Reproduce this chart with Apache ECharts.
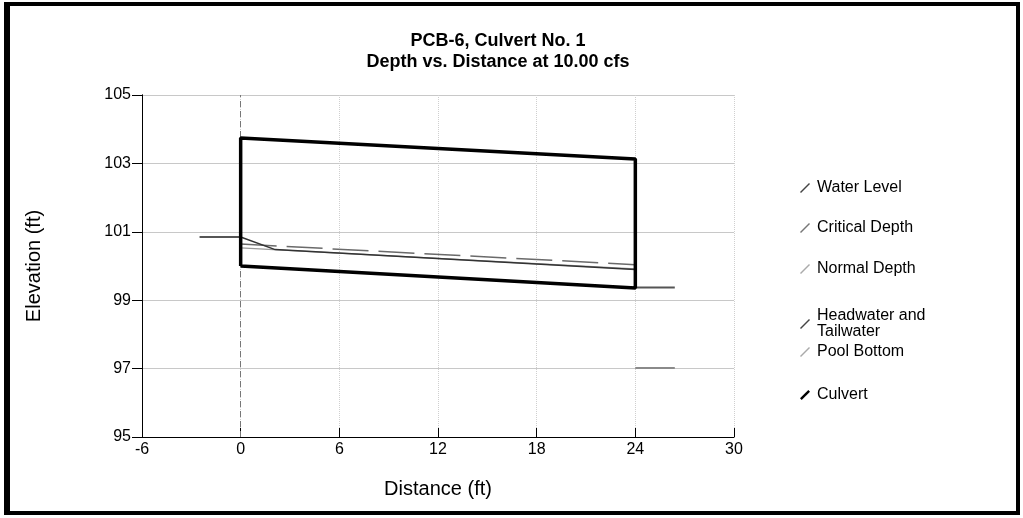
<!DOCTYPE html>
<html>
<head>
<meta charset="utf-8">
<script src="https://cdn.jsdelivr.net/npm/echarts@6/dist/echarts.min.js"></script>
<style>
html,body{margin:0;padding:0;background:#fff;}
#c{width:1023px;height:518px;}
</style>
</head>
<body>
<div id="c"></div>
<script>
// ---- data (ft) ----
const xTicks = [-6, 0, 6, 12, 18, 24, 30];
const yTicks = [95, 97, 99, 101, 103, 105];
const culvert = [[0, 100.0], [0, 103.74], [24, 103.13], [24, 99.36], [0, 100.0]];
const waterLevel = [[0, 100.85], [2.1, 100.48], [24, 99.90]];
const criticalDepth = [[0, 100.64], [24, 100.04]];
const normalDepth = [[0, 100.53], [24, 99.91]];
const headwater = [[-2.5, 100.85], [0, 100.85]];
const tailwater = [[24, 99.37], [26.4, 99.37]];
const poolBottom = [[24, 97.02], [26.4, 97.02]];

const FONT = 'Liberation Sans';
const slash = 'path://M0,9 L9,0 L10,1 L1,10 Z';
const slashBold = 'path://M0,8.3 L8.3,0 L10,1.7 L1.7,10 Z';

function leg(name, top, icon, fmt) {
  return {
    data: [{name: name, icon: icon}],
    orient: 'vertical', left: 795, top: top,
    itemWidth: 14, itemHeight: 10,
    selectedMode: false,
    textStyle: {fontFamily: FONT, fontSize: 16, color: '#000', lineHeight: 16},
    formatter: fmt || null
  };
}

const chart = echarts.init(document.getElementById('c'), null, {renderer: 'canvas'});
chart.setOption({
  animation: false,
  backgroundColor: '#fff',
  title: {
    text: 'PCB-6, Culvert No. 1\nDepth vs. Distance at 10.00 cfs',
    left: 493, top: 26, textAlign: 'center',
    textStyle: {fontFamily: FONT, fontSize: 18, fontWeight: 'bold', color: '#000', lineHeight: 21}
  },
  graphic: [
    {type: 'rect', shape: {x: 6, y: 4, width: 1012, height: 509}, style: {fill: 'none', stroke: '#000', lineWidth: 4}, z: 100},
    {type: 'rect', shape: {x: 4, y: 2, width: 6, height: 513}, style: {fill: '#000'}, z: 100}
  ],
  legend: [
    leg('Water Level', 175, slash),
    leg('Critical Depth', 215, slash),
    leg('Normal Depth', 256, slash),
    leg('Headwater and Tailwater', 303, slash, function () { return 'Headwater and\nTailwater'; }),
    leg('Pool Bottom', 339, slash),
    leg('Culvert', 382, slashBold)
  ],
  grid: {left: 142, right: 289, top: 95, bottom: 81},
  xAxis: [{
    type: 'value', min: xTicks[0], max: xTicks[xTicks.length - 1], interval: 6,
    name: 'Distance (ft)', nameLocation: 'middle', nameGap: 42,
    nameTextStyle: {fontFamily: FONT, fontSize: 20, color: '#000'},
    axisLine: {show: true, onZero: false, lineStyle: {color: '#000', width: 1}},
    axisTick: {show: true, inside: true, length: 9, lineStyle: {color: '#000'}},
    axisLabel: {fontFamily: FONT, fontSize: 16, color: '#000', margin: 5},
    splitLine: {show: true, lineStyle: {color: '#cfcfcf', type: 'dotted', width: 1}}
  }, {
    type: 'value', min: 0, max: 36, position: 'top',
    axisLine: {show: false, onZero: false},
    axisTick: {show: false}, axisLabel: {show: false}, splitLine: {show: false}
  }],
  yAxis: [{
    type: 'value', min: yTicks[0], max: yTicks[yTicks.length - 1], interval: 2,
    name: 'Elevation (ft)', nameLocation: 'middle', nameGap: 98,
    nameTextStyle: {fontFamily: FONT, fontSize: 20, color: '#000'},
    axisLine: {show: true, onZero: false, lineStyle: {color: '#000', width: 1}},
    axisTick: {show: true, inside: false, length: 10, lineStyle: {color: '#000'}},
    axisLabel: {fontFamily: FONT, fontSize: 16, color: '#000', margin: 11},
    splitLine: {show: true, lineStyle: {color: '#c8c8c8', width: 1}}
  }, {
    type: 'value', min: yTicks[0], max: yTicks[yTicks.length - 1], interval: 2,
    axisLine: {show: true, onZero: true, onZeroAxisIndex: 1, lineStyle: {color: '#000', width: 1}},
    axisTick: {show: true, inside: true, length: 10, lineStyle: {color: '#000'}},
    axisLabel: {show: false},
    splitLine: {show: false}
  }],
  series: [
    {name: 'Normal Depth', type: 'line', data: normalDepth, symbol: 'none', color: '#aaaaaa',
     lineStyle: {color: '#9a9a9a', width: 1.5}, z: 3,
     markLine: {silent: true, symbol: 'none', label: {show: false},
       lineStyle: {color: '#777', type: [6, 4], width: 1}, data: [{xAxis: 0}]}},
    {name: 'Critical Depth', type: 'line', data: criticalDepth, symbol: 'none', color: '#777777',
     lineStyle: {color: '#6a6a6a', width: 1.5, type: [36, 10]}, z: 4},
    {name: 'Water Level', type: 'line', data: waterLevel, symbol: 'none', color: '#444444',
     lineStyle: {color: '#333', width: 1.5}, z: 5},
    {name: 'Headwater and Tailwater', type: 'line', data: headwater, symbol: 'none', color: '#444444',
     lineStyle: {color: '#555', width: 2}, z: 4},
    {name: 'Headwater and Tailwater', type: 'line', data: tailwater, symbol: 'none', color: '#444444',
     lineStyle: {color: '#555', width: 2}, z: 4},
    {name: 'Pool Bottom', type: 'line', data: poolBottom, symbol: 'none', color: '#aaaaaa',
     lineStyle: {color: '#8a8a8a', width: 2}, z: 3},
    {name: 'Culvert', type: 'line', data: culvert, symbol: 'none', color: '#000',
     lineStyle: {color: '#000', width: 3.5}, z: 6}
  ]
});
</script>
</body>
</html>
